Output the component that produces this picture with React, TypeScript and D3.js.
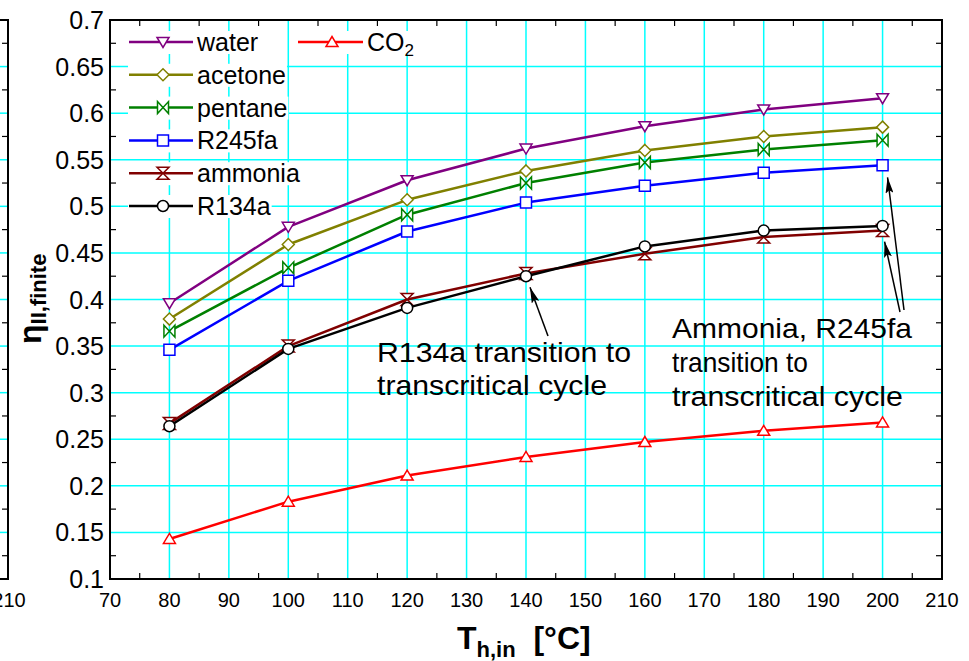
import React from "react";
import * as d3 from "d3";

const temps = [80, 100, 120, 140, 160, 180, 200];
const water = [0.396, 0.478, 0.528, 0.562, 0.586, 0.604, 0.616];
const acetone = [0.379, 0.459, 0.507, 0.538, 0.560, 0.575, 0.585];
const pentane = [0.366, 0.434, 0.491, 0.525, 0.547, 0.561, 0.571];
const r245fa = [0.346, 0.420, 0.473, 0.504, 0.522, 0.536, 0.544];
const ammonia = [0.267, 0.350, 0.400, 0.428, 0.449, 0.467, 0.474];
const r134a = [0.264, 0.347, 0.391, 0.425, 0.457, 0.474, 0.479];
const co2 = [0.143, 0.183, 0.211, 0.231, 0.247, 0.259, 0.268];

const xTicks = [70, 80, 90, 100, 110, 120, 130, 140, 150, 160, 170, 180, 190, 200, 210];
const yTicks = [0.1, 0.15, 0.2, 0.25, 0.3, 0.35, 0.4, 0.45, 0.5, 0.55, 0.6, 0.65, 0.7];
const yTickLabels = ["0.1", "0.15", "0.2", "0.25", "0.3", "0.35", "0.4", "0.45", "0.5", "0.55", "0.6", "0.65", "0.7"];

type S = { name: string; values: number[]; color: string; marker: string };
const series: S[] = [
  { name: "water", values: water, color: "#800080", marker: "tdown" },
  { name: "acetone", values: acetone, color: "#808000", marker: "diamond" },
  { name: "pentane", values: pentane, color: "#008000", marker: "bowtie" },
  { name: "R245fa", values: r245fa, color: "#0000ff", marker: "square" },
  { name: "ammonia", values: ammonia, color: "#800000", marker: "hourglass" },
  { name: "R134a", values: r134a, color: "#000000", marker: "circle" },
  { name: "CO2", values: co2, color: "#ff0000", marker: "tup" },
];

const FONT = "'Liberation Sans', Arial, sans-serif";

function markerPath(kind: string): string {
  switch (kind) {
    case "tdown": return "M-6,-4.5L6,-4.5L0,5.5Z";
    case "tup": return "M-6,4.5L6,4.5L0,-5.5Z";
    case "diamond": return "M0,-6L6,0L0,6L-6,0Z";
    case "bowtie": return "M-5.5,-6L5.5,6L5.5,-6L-5.5,6Z";
    case "hourglass": return "M-6,-6L6,-6L-6,6L6,6Z";
    case "square": return "M-5.5,-5.5L5.5,-5.5L5.5,5.5L-5.5,5.5Z";
    default: return "";
  }
}

function Marker({ kind, x, y, color }: { kind: string; x: number; y: number; color: string }) {
  if (kind === "circle") return <circle cx={x} cy={y} r={5.5} fill="#fff" stroke={color} strokeWidth={1.5} />;
  return <path d={markerPath(kind)} transform={`translate(${x},${y})`} fill="#fff" stroke={color} strokeWidth={1.5} strokeLinejoin="miter" />;
}

function textWidth(t: string, font: string): number {
  if (typeof document === "undefined") return t.length * 12;
  const c = document.createElement("canvas").getContext("2d");
  if (!c) return t.length * 12;
  c.font = font;
  return c.measureText(t).width;
}

export default function App() {
  const L = 110, R = 942, T = 20, B = 579;
  const x = d3.scaleLinear().domain([70, 210]).range([L, R]);
  const y = d3.scaleLinear().domain([0.1, 0.7]).range([B, T]);
  const line = d3.line<number>().x((_, i) => x(temps[i])).y((v) => y(v));

  const minorX = d3.range(75, 210, 10);
  const minorY = d3.range(0.125, 0.7, 0.05);
  const gridY = yTicks.filter((v) => v > 0.1 + 1e-9 && v < 0.7 - 1e-9);
  const gridX = xTicks.filter((v) => v > 70 && v < 210);

  const legFont = `25px ${FONT}`;
  const legRow = (i: number) => 42 + i * 32.8;

  const ann = (tx: number, ty: number, s: string, len: number) => (
    <text x={tx} y={ty} fontSize={28} textLength={len} lengthAdjust="spacingAndGlyphs">{s}</text>
  );

  return (
    <svg width={969} height={661} style={{ position: "absolute", left: 0, top: 0, background: "#fff" }} fontFamily={FONT}>
      <defs>
        <marker id="ah" viewBox="0 0 16 8" refX={16} refY={4} markerWidth={16} markerHeight={8} markerUnits="userSpaceOnUse" orient="auto">
          <path d="M0,0L16,4L0,8L3,4Z" fill="#000" />
        </marker>
      </defs>
      <rect x={0} y={0} width={969} height={661} fill="#fff" />

      {/* neighbouring plot edge on the left */}
      {gridY.map((v) => (
        <line key={"ng" + v} x1={0} x2={8} y1={y(v)} y2={y(v)} stroke="#00ffff" strokeWidth={1.5} />
      ))}
      {minorY.map((v) => (
        <line key={"nm" + v} x1={2} x2={8} y1={y(v)} y2={y(v)} stroke="#000" strokeWidth={1.2} />
      ))}
      <path d={`M0,${T}H8V${B}H0`} fill="none" stroke="#000" strokeWidth={2} />
      <text x={9} y={607} fontSize={20} textAnchor="middle">210</text>

      {/* grid */}
      {gridX.map((v) => (
        <line key={"gx" + v} x1={x(v)} x2={x(v)} y1={T} y2={B} stroke="#00ffff" strokeWidth={1.5} />
      ))}
      {gridY.map((v) => (
        <line key={"gy" + v} x1={L} x2={R} y1={y(v)} y2={y(v)} stroke="#00ffff" strokeWidth={1.5} />
      ))}

      {/* minor ticks */}
      {minorX.map((v) => (
        <g key={"mx" + v}>
          <line x1={x(v)} x2={x(v)} y1={T} y2={T + 6} stroke="#000" strokeWidth={1.2} />
          <line x1={x(v)} x2={x(v)} y1={B} y2={B - 6} stroke="#000" strokeWidth={1.2} />
        </g>
      ))}
      {minorY.map((v) => (
        <g key={"my" + v}>
          <line x1={L} x2={L + 6} y1={y(v)} y2={y(v)} stroke="#000" strokeWidth={1.2} />
          <line x1={R} x2={R - 6} y1={y(v)} y2={y(v)} stroke="#000" strokeWidth={1.2} />
        </g>
      ))}

      {/* legend */}
      {series.map((s, i) => {
        const col2 = s.name === "CO2";
        const cy = col2 ? legRow(0) : legRow(i);
        const x0 = col2 ? 298 : 129;
        const x1 = col2 ? 363 : 193;
        const mx = col2 ? 332 : 163;
        const tx = col2 ? 367 : 197;
        const w = col2 ? textWidth("CO", legFont) + 14 : textWidth(s.name, legFont);
        return (
          <g key={"leg" + s.name}>
            <rect x={x0 - 1} y={cy - 11} width={tx + w + 2 - x0} height={23} fill="#fff" />
            <line x1={x0} x2={x1} y1={cy} y2={cy} stroke={s.color} strokeWidth={2.5} />
            <Marker kind={s.marker} x={mx} y={cy} color={s.color} />
            {col2 ? (
              <text x={tx} y={cy + 9} fontSize={25}>
                CO<tspan fontSize={17} dy={5}>2</tspan>
              </text>
            ) : (
              <text x={tx} y={cy + 9} fontSize={25}>{s.name}</text>
            )}
          </g>
        );
      })}

      {/* series */}
      {series.map((s) => (
        <g key={"s" + s.name}>
          <path d={line(s.values) || ""} fill="none" stroke={s.color} strokeWidth={2.5} strokeLinejoin="round" />
          {s.values.map((v, i) => (
            <Marker key={i} kind={s.marker} x={x(temps[i])} y={y(v)} color={s.color} />
          ))}
        </g>
      ))}

      {/* frame */}
      <rect x={L} y={T} width={R - L} height={B - T} fill="none" stroke="#000" strokeWidth={2} />

      {/* tick labels */}
      {xTicks.map((v) => (
        <text key={"xl" + v} x={x(v)} y={607} fontSize={20} textAnchor="middle">{v}</text>
      ))}
      {yTicks.map((v, i) => (
        <text key={"yl" + v} x={104} y={y(v) + 9} fontSize={25} textAnchor="end">{yTickLabels[i]}</text>
      ))}

      {/* axis titles */}
      <text x={457} y={649} fontSize={32} fontWeight="bold">
        T<tspan fontSize={22} dy={8}>h,in</tspan>
        <tspan dy={-8} fontSize={32}>{"\u00a0\u00a0[°C]"}</tspan>
      </text>
      <text transform="translate(41,344) rotate(-90)" fontSize={32} fontWeight="bold">
        η<tspan fontSize={22} dy={5}>II,finite</tspan>
      </text>

      {/* annotations */}
      <line x1={548} y1={336} x2={x(140) + 4} y2={y(0.425) + 11} stroke="#000" strokeWidth={1.5} markerEnd="url(#ah)" />
      <line x1={900} y1={312} x2={x(200) + 2} y2={y(0.474) + 11} stroke="#000" strokeWidth={1.5} markerEnd="url(#ah)" />
      <line x1={904} y1={310} x2={x(200) + 5} y2={y(0.544) + 12} stroke="#000" strokeWidth={1.5} markerEnd="url(#ah)" />
      {ann(377, 362, "R134a transition to", 254)}
      {ann(377, 395, "transcritical cycle", 230)}
      {ann(672, 338, "Ammonia, R245fa", 240)}
      {ann(672, 372, "transition to", 136)}
      {ann(672, 406, "transcritical cycle", 231)}
    </svg>
  );
}
